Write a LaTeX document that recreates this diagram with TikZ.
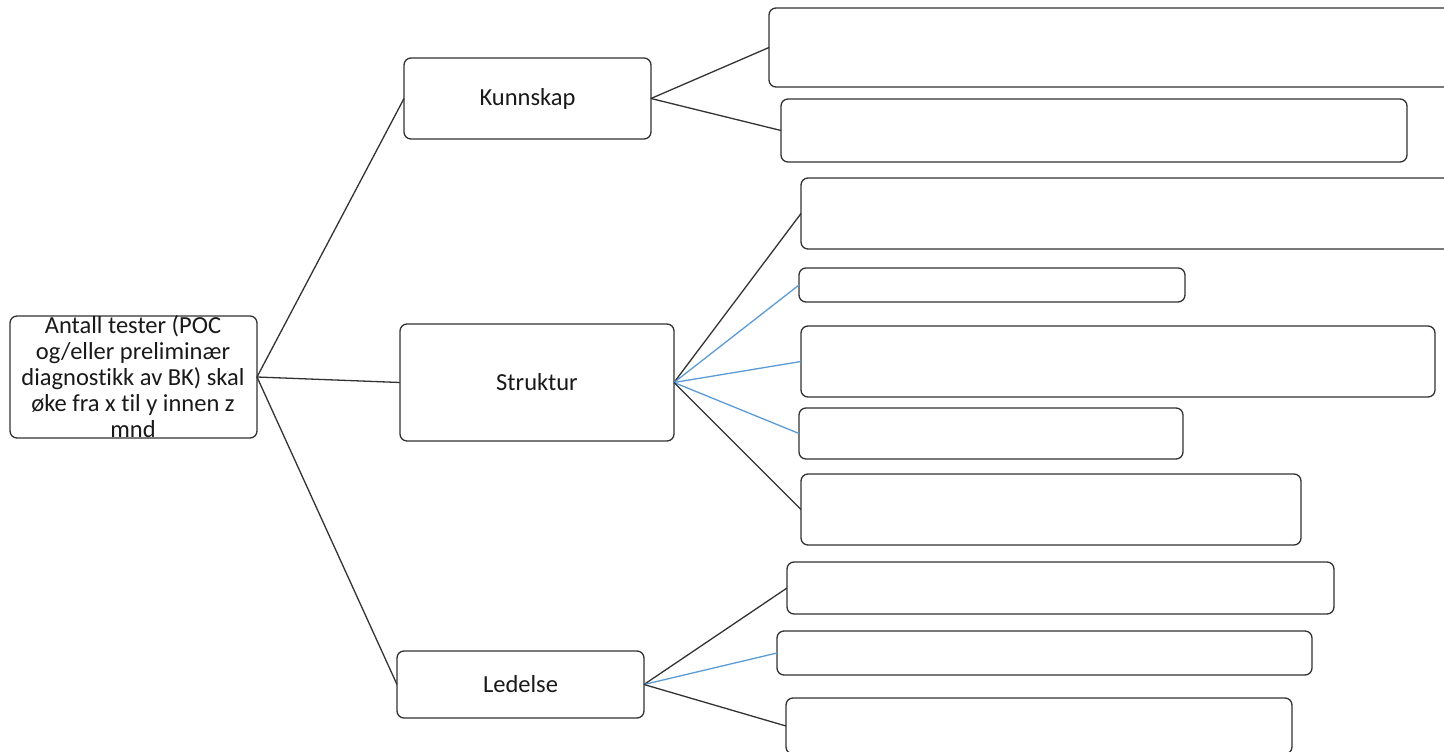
\documentclass[tikz,border=0pt]{standalone}
\usepackage{fontspec}
\setmainfont[Ligatures={NoCommon}]{Carlito}
\definecolor{lineblue}{RGB}{91,155,213}
\definecolor{edgegray}{RGB}{50,50,50}
\tikzset{
  box/.style={draw=edgegray, line width=1.3pt, rounded corners=7pt, fill=white, inner sep=0pt, outer sep=0pt},
  lbl/.style={font=\fontsize{24.5}{26}\selectfont, align=center, text=black!90},
  blk/.style={draw=edgegray, line width=1.3pt},
  blu/.style={draw=lineblue, line width=1.3pt}
}
\newcommand{\bx}[5]{% name, x1, y1, x2, y2
  \node[box, minimum width={#4-#2}, minimum height={#5-#3}] (#1) at ({(#2+#4)/2},{(#3+#5)/2}) {};}
\begin{document}
\begin{tikzpicture}[x=1pt,y=-1pt]
\useasboundingbox (0,0) rectangle (1444,752);
\begin{scope}
\clip (0,0) rectangle (1444,752);
\bx{root}{10}{316}{257}{438}
\bx{kun}{404}{58}{651}{139}
\bx{str}{400}{324}{674}{441}
\bx{led}{397}{651}{644}{718}
\bx{ka}{769}{8}{1460}{87}
\bx{kb}{781}{99}{1407}{162}
\bx{sa}{801}{178}{1460}{249}
\bx{sb}{799}{268}{1185}{302}
\bx{sc}{801}{326}{1435}{397}
\bx{sd}{799}{408}{1183}{459}
\bx{se}{801}{474}{1301}{545}
\bx{la}{787}{562}{1334}{614}
\bx{lb}{777}{631}{1312}{675}
\bx{lc}{786}{698}{1292}{754}
\draw[blk] (root.east) -- (kun.west);
\draw[blk] (root.east) -- (str.west);
\draw[blk] (root.east) -- (led.west);
\draw[blk] (kun.east) -- (ka.west);
\draw[blk] (kun.east) -- (kb.west);
\draw[blk] (str.east) -- (sa.west);
\draw[blu] (str.east) -- (sb.west);
\draw[blu] (str.east) -- (sc.west);
\draw[blu] (str.east) -- (sd.west);
\draw[blk] (str.east) -- (se.west);
\draw[blk] (led.east) -- (la.west);
\draw[blu] (led.east) -- (lb.west);
\draw[blk] (led.east) -- (lc.west);
\node[lbl] (roott) at (133,377) {Antall tester (POC\\og/eller preliminær\\diagnostikk av BK) skal\\øke fra x til y innen z\\mnd};
\node[lbl] (kunt) at (kun.center) {Kunnskap};
\node[lbl] (strt) at (str.center) {Struktur};
\node[lbl] (ledt) at (led.center) {Ledelse};
\end{scope}
\end{tikzpicture}
\end{document}
